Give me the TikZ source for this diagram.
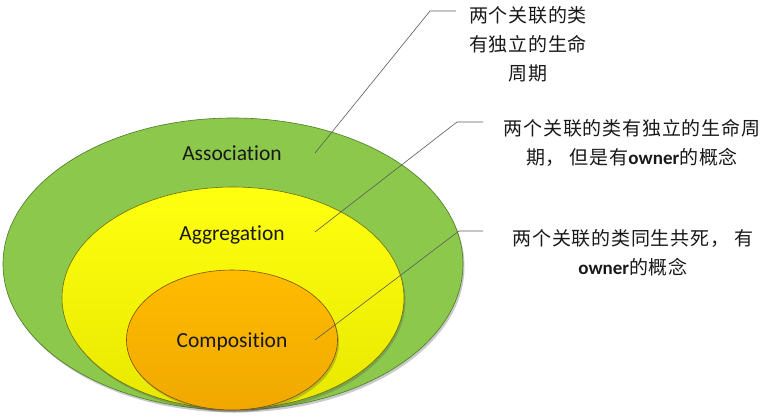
\documentclass[tikz,border=0pt]{standalone}
\usepackage{fontspec}
\setmainfont{Carlito}[Ligatures=NoCommon]
\newfontfamily\cjk{Noto Sans CJK SC}[LetterSpace=4]
\newfontfamily\lat{Carlito}[Ligatures=NoCommon]
\usetikzlibrary{shapes.geometric,shadows}
\definecolor{grn}{HTML}{8CC84B}
\definecolor{grnd}{HTML}{4E7A26}
\definecolor{ylwT}{HTML}{FFFF10}
\definecolor{ylwB}{HTML}{E8E800}
\definecolor{ylwd}{HTML}{6E6E10}
\definecolor{orgT}{HTML}{FFBC00}
\definecolor{orgB}{HTML}{F0A800}
\definecolor{orgd}{HTML}{7A5010}
\definecolor{leader}{HTML}{5A5A5A}
\tikzset{
  ring/.style={ellipse, inner sep=0pt, line width=0.6pt,
    drop shadow={shadow xshift=1.5pt, shadow yshift=-2.5pt, opacity=0.3, fill=black!70}},
  lbl/.style={font=\fontsize{21.5}{24}\selectfont\lat, text=black!90, anchor=base, inner sep=0pt},
  note/.style={font=\fontsize{19}{29}\selectfont\cjk, align=center, anchor=base, inner sep=0pt, text=black!90},
  leaderline/.style={draw=leader, line width=0.6pt}
}
\newcommand{\ow}{{\lat\bfseries owner}}
\begin{document}
\begin{tikzpicture}[x=1pt,y=-1pt]
\useasboundingbox (0,0) rectangle (766,418);
\node[ring, draw=grnd, fill=grn, minimum width=460pt, minimum height=292pt] (assoc) at (233,264) {};
\node[ring, draw=ylwd, top color=ylwT, bottom color=ylwB, minimum width=342pt, minimum height=222pt] (aggr) at (233,298) {};
\node[ring, draw=orgd, top color=orgT, bottom color=orgB, minimum width=211pt, minimum height=140pt] (comp) at (232,340) {};
\node[lbl] (tassoc) at (232,160) {Association};
\node[lbl] (taggr) at (232,240) {Aggregation};
\node[lbl] (tcomp) at (232,347) {Composition};
% leaders
\coordinate (p1) at (315,153); \coordinate (k1) at (430,11); \coordinate (e1) at (456,11);
\coordinate (p2) at (315,232); \coordinate (k2) at (457,122); \coordinate (e2) at (483,122);
\coordinate (p3) at (315,340); \coordinate (k3) at (459,231); \coordinate (e3) at (483,231);
\draw[leaderline] (p1) -- (k1) -- (e1);
\draw[leaderline] (p2) -- (k2) -- (e2);
\draw[leaderline] (p3) -- (k3) -- (e3);
\node[note] (n1) at (528,80) {两个关联的类\\有独立的生命\\周期};
\node[note] (n2) at (632,164) {两个关联的类有独立的生命周\\期， 但是有\ow 的概念};
\node[note] (n3) at (633,274) {两个关联的类同生共死， 有\\\ow 的概念};
\end{tikzpicture}
\end{document}
